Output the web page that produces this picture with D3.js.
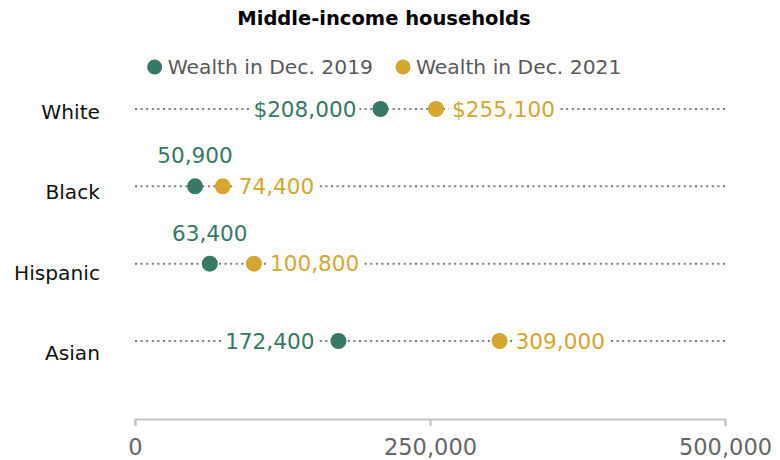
<!DOCTYPE html>
<html>
<head>
<meta charset="utf-8">
<script src="https://cdn.jsdelivr.net/npm/d3@7"></script>
<style>
  html, body { margin: 0; padding: 0; background: #fff; }
  svg { display: block; font-family: "DejaVu Sans", sans-serif; }
</style>
</head>
<body>
<svg id="chart" width="780" height="460"></svg>
<script>
// Middle-income household wealth by race and ethnicity
const groups = ["White", "Black", "Hispanic", "Asian"];
const wealth2019 = [208000, 50900, 63400, 172400];
const wealth2021 = [255100, 74400, 100800, 309000];
const seriesNames = ["Wealth in Dec. 2019", "Wealth in Dec. 2021"];
const axisTicks = [0, 250000, 500000];
const dollarGroup = "White";
const title = "Middle-income households";

const colors = ["#377866", "#d5a72f"];

const svg = d3.select("#chart");

const x = d3.scaleLinear().domain([0, 500000]).range([135, 725]);
const yRow = d3.scalePoint().domain(groups).range([109, 341]);
const yLabel = d3.scalePoint().domain(groups).range([112, 353]);

const fmt = d3.format(",");

// Title
svg.append("text")
  .attr("x", 384).attr("y", 25)
  .attr("text-anchor", "middle")
  .attr("font-weight", "bold")
  .attr("font-size", 19.5)
  .attr("fill", "#000")
  .text(title);

// Legend, centred under the title
const legend = svg.append("g");
let lx = 0;
seriesNames.forEach((name, i) => {
  const g = legend.append("g").attr("transform", `translate(${lx},0)`);
  g.append("circle").attr("cx", 8).attr("cy", 0).attr("r", 7.5).attr("fill", colors[i]);
  const t = g.append("text")
    .attr("x", 21).attr("y", 0).attr("dy", "0.36em")
    .attr("font-size", 20.3)
    .attr("fill", "#595959")
    .text(name);
  lx += 21 + t.node().getComputedTextLength() + 22;
});
const legendW = lx - 22;
legend.attr("transform", `translate(${384 - legendW / 2},67)`);

// Axis
const axis = d3.axisBottom(x)
  .tickValues(axisTicks)
  .tickFormat(fmt)
  .tickSize(7)
  .tickPadding(13);
const ax = svg.append("g").attr("transform", "translate(0,419)").call(axis);
ax.selectAll("path, line").attr("stroke", "#c4c4c4").attr("stroke-width", 2);
ax.selectAll("text")
  .attr("font-family", "DejaVu Sans, sans-serif")
  .attr("font-size", 22.5)
  .attr("fill", "#666");

// Category labels
svg.append("g").selectAll("text")
  .data(groups).join("text")
  .attr("x", 100).attr("y", d => yLabel(d))
  .attr("dy", "0.35em")
  .attr("text-anchor", "end")
  .attr("font-size", 20.2)
  .attr("fill", "#111")
  .text(d => d);

// Rows
const rows = groups.map((g, i) => ({ group: g, a: wealth2019[i], b: wealth2021[i] }));

const rowG = svg.append("g").selectAll("g")
  .data(rows).join("g")
  .attr("transform", d => `translate(0,${yRow(d.group)})`);

// dotted guide line across the full scale
rowG.append("line")
  .attr("x1", x(0)).attr("x2", x(500000))
  .attr("y1", 0).attr("y2", 0)
  .attr("stroke", "#7a7a7a")
  .attr("stroke-width", 2)
  .attr("stroke-dasharray", "2,3.6");

const valueFont = 21.6;

// value label with a white plate that breaks the dotted line behind it
function valueLabel(g, text, color) {
  const plate = g.append("rect").attr("fill", "#fff");
  const t = g.append("text")
    .attr("font-size", valueFont)
    .attr("fill", color)
    .text(text);
  return { t, plate };
}
function fitPlate(lbl) {
  const b = lbl.t.node().getBBox();
  lbl.plate
    .attr("x", b.x - 3).attr("y", b.y)
    .attr("width", b.width + 6).attr("height", b.height);
}

rowG.each(function (d) {
  const g = d3.select(this);
  const prefix = d.group === dollarGroup ? "$" : "";

  // 2021 value to the right of its dot
  const right = valueLabel(g, prefix + fmt(d.b), colors[1]);
  right.t.attr("x", x(d.b) + 16).attr("y", 0).attr("dy", "0.36em");
  fitPlate(right);

  // 2019 value to the left of its dot, or above it when there is no room
  const left = valueLabel(g, prefix + fmt(d.a), colors[0]);
  const w = left.t.node().getComputedTextLength();
  if (x(d.a) - 24 - w > x(0) + 30) {
    left.t.attr("x", x(d.a) - 24).attr("y", 0).attr("dy", "0.36em").attr("text-anchor", "end");
  } else {
    left.t.attr("x", x(d.a)).attr("y", -23).attr("text-anchor", "middle");
  }
  fitPlate(left);

  g.append("circle").attr("cx", x(d.a)).attr("cy", 0).attr("r", 8).attr("fill", colors[0]);
  g.append("circle").attr("cx", x(d.b)).attr("cy", 0).attr("r", 8).attr("fill", colors[1]);
});
</script>
</body>
</html>
